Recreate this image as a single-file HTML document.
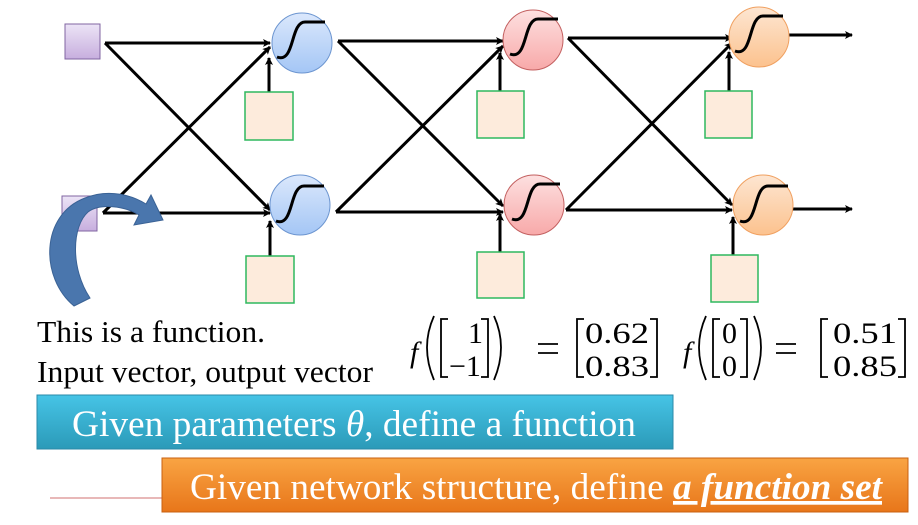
<!DOCTYPE html>
<html><head><meta charset="utf-8"><style>
body{margin:0;width:918px;height:525px;overflow:hidden;background:#fff}
svg{position:absolute;left:0;top:0}
.t{font-family:"Liberation Serif",serif}
</style></head><body>
<svg width="918" height="525" viewBox="0 0 918 525">
<defs>
<marker id="a" markerWidth="8" markerHeight="8" refX="7" refY="4" orient="auto" markerUnits="userSpaceOnUse"><path d="M0,0 L8,4 L0,8 L2,4z" fill="#000"/></marker>
<linearGradient id="pu" x1="0" y1="0" x2="0" y2="1"><stop offset="0" stop-color="#ece4f6"/><stop offset="1" stop-color="#c7aede"/></linearGradient>
<linearGradient id="bl" x1="0" y1="0" x2="0" y2="1"><stop offset="0" stop-color="#dbe8fc"/><stop offset="1" stop-color="#a4c6f5"/></linearGradient>
<linearGradient id="rd" x1="0" y1="0" x2="0" y2="1"><stop offset="0" stop-color="#fde0e0"/><stop offset="1" stop-color="#f8a9a9"/></linearGradient>
<linearGradient id="or" x1="0" y1="0" x2="0" y2="1"><stop offset="0" stop-color="#fde6d2"/><stop offset="1" stop-color="#fcc28e"/></linearGradient>
<linearGradient id="cy" x1="0" y1="0" x2="0" y2="1"><stop offset="0" stop-color="#46c4e6"/><stop offset="1" stop-color="#2b9ab8"/></linearGradient>
<linearGradient id="og" x1="0" y1="0" x2="0" y2="1"><stop offset="0" stop-color="#f9a443"/><stop offset="1" stop-color="#e8761a"/></linearGradient>
</defs>
<g stroke="#000" stroke-width="3" fill="none" marker-end="url(#a)">
<line x1="105" y1="43" x2="270" y2="43"/><line x1="105" y1="43" x2="270" y2="210"/>
<line x1="103" y1="213" x2="270" y2="213"/><line x1="103" y1="213" x2="270" y2="47"/>
<line x1="338" y1="41" x2="503" y2="41"/><line x1="338" y1="41" x2="503" y2="206"/>
<line x1="336" y1="212" x2="503" y2="212"/><line x1="336" y1="212" x2="503" y2="46"/>
<line x1="568" y1="38" x2="732" y2="38"/><line x1="568" y1="38" x2="732" y2="205"/>
<line x1="566" y1="210" x2="732" y2="210"/><line x1="566" y1="210" x2="732" y2="43"/>
<line x1="789" y1="35" x2="852" y2="35"/><line x1="793" y1="209" x2="852" y2="209"/>
<line x1="269" y1="92" x2="269" y2="58"/><line x1="270" y1="256" x2="270" y2="221"/>
<line x1="500" y1="91" x2="500" y2="53"/><line x1="500" y1="252" x2="500" y2="214"/>
<line x1="729" y1="91" x2="729" y2="52"/><line x1="733" y1="255" x2="733" y2="217"/>
</g>
<rect x="65" y="24" width="35" height="35" fill="url(#pu)" stroke="#8064a2"/>
<rect x="62" y="196" width="35" height="35" fill="url(#pu)" stroke="#8064a2"/>
<g fill="#fdebdc" stroke="#2fb85e" stroke-width="1.5">
<rect x="245" y="92" width="48" height="48"/><rect x="246" y="256" width="48" height="47"/>
<rect x="477" y="91" width="47" height="47"/><rect x="477" y="252" width="47" height="46"/>
<rect x="705" y="91" width="47" height="47"/><rect x="711" y="255" width="47" height="47"/>
</g>
<g stroke-width="1">
<circle cx="302" cy="43" r="30" fill="url(#bl)" stroke="#6c95d0"/>
<circle cx="300" cy="205" r="30" fill="url(#bl)" stroke="#6c95d0"/>
<circle cx="533" cy="40" r="30" fill="url(#rd)" stroke="#c36060"/>
<circle cx="534" cy="205" r="30" fill="url(#rd)" stroke="#c36060"/>
<circle cx="759" cy="37" r="30" fill="url(#or)" stroke="#f0a060"/>
<circle cx="763" cy="205" r="30" fill="url(#or)" stroke="#f0a060"/>
</g>
<g stroke="#000" stroke-width="3" fill="none">
<path d="M277,57 C295,64 290,22 305,22 L325,22"/>
<path d="M277,57 C295,64 290,22 305,22 L325,22" transform="translate(-1,164)"/>
<path d="M277,57 C295,64 290,22 305,22 L325,22" transform="translate(233,-3)"/>
<path d="M277,57 C295,64 290,22 305,22 L325,22" transform="translate(235,162)"/>
<path d="M277,57 C295,64 290,22 305,22 L325,22" transform="translate(458,-6)"/>
<path d="M277,57 C295,64 290,22 305,22 L325,22" transform="translate(463,164)"/>
</g>
<path d="M74,306 C40,278 40,215 85,198 C110,188 133,196 146,204 L151,195 L163,220 L134,225 L139,215 C125,206 100,203 88,212 C72,226 70,268 90,298 Z" fill="#4a76ad" stroke="#3a6295" stroke-width="1"/>
<text class="t" x="37" y="342" font-size="31" textLength="228" lengthAdjust="spacingAndGlyphs">This is a function.</text>
<text class="t" x="37" y="382" font-size="31" textLength="336" lengthAdjust="spacingAndGlyphs">Input vector, output vector</text>
<g fill="none" stroke="#000" stroke-width="1.8">
<path d="M434,316 Q420,347 434,380"/><path d="M494,316 Q508,347 494,380"/>
<path d="M448,319 H441 V377 H448"/><path d="M481,319 H488 V377 H481"/>
<path d="M584,319 H577 V377 H584"/><path d="M650,319 H657 V377 H650"/>
<path d="M706,316 Q692,347 706,380"/><path d="M754,316 Q768,347 754,380"/>
<path d="M720,319 H713 V377 H720"/><path d="M740,319 H747 V377 H740"/>
<path d="M828,319 H821 V377 H828"/><path d="M898,319 H905 V377 H898"/>
<path d="M538,344 H558 M538,353 H558"/><path d="M776,344 H796 M776,353 H796"/>
</g>
<g class="t" font-size="30">
<text x="410" y="362" font-style="italic">f</text>
<text x="683" y="362" font-style="italic">f</text>
<text x="468" y="343">1</text><text x="449" y="376">−1</text>
<text x="585" y="343" textLength="64" lengthAdjust="spacingAndGlyphs">0.62</text><text x="585" y="376" textLength="64" lengthAdjust="spacingAndGlyphs">0.83</text>
<text x="722" y="343">0</text><text x="722" y="376">0</text>
<text x="833" y="343" textLength="64" lengthAdjust="spacingAndGlyphs">0.51</text><text x="833" y="376" textLength="64" lengthAdjust="spacingAndGlyphs">0.85</text>
</g>
<line x1="50" y1="498" x2="165" y2="498" stroke="#e0a0a0" stroke-width="1.5"/>
<rect x="37" y="395" width="636" height="54" fill="url(#cy)" stroke="#2a8aa8"/>
<text class="t" x="72" y="436" font-size="37" fill="#fff" textLength="564" lengthAdjust="spacingAndGlyphs">Given parameters <tspan font-style="italic">θ</tspan>, define a function</text>
<rect x="162" y="458" width="746" height="54" fill="url(#og)" stroke="#c86010"/>
<text class="t" x="190" y="499" font-size="37" fill="#fff" textLength="692" lengthAdjust="spacingAndGlyphs">Given network structure, define <tspan font-weight="bold" font-style="italic" text-decoration="underline">a function set</tspan></text>
</svg>
</body></html>
